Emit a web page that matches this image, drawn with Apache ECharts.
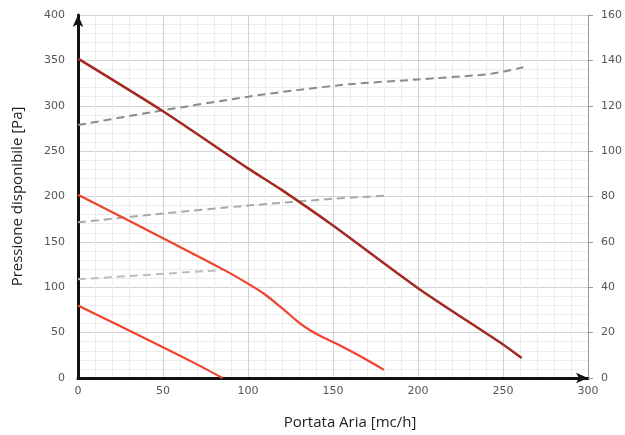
<!DOCTYPE html>
<html>
<head>
<meta charset="utf-8">
<script src="https://cdn.jsdelivr.net/npm/echarts@6/dist/echarts.min.js"></script>
<style>
html,body{margin:0;padding:0;background:#fff;}
#c{width:625px;height:435px;}
</style>
</head>
<body>
<div id="c"></div>
<script>
// Pressure curves (left axis, Pa) : [flow mc/h, pressure Pa]
var curveHigh = [[0,352],[50,294],[100,231],[120,207],[150,168],[200,99],[250,37],[261,22]];
var curveMid = [[0,202],[50,154],[85,120],[100,104],[110,92],[120,77],[130,61],[137,52],[145,44],[155,35],[165,25],[180,9]];
var curveLow = [[0,80],[25,57],[50,34],[70,15],[85,0]];
// Right-axis curves : [flow, value]
var dashHigh = [[0,111.5],[50,118],[100,124],[130,127],[160,129.5],[200,131.6],[240,133.8],[250,135],[262,137]];
var dashMid = [[0,68.6],[50,72.5],[100,76],[150,79],[180,80.3]];
var dashLow = [[0,43.5],[85,47.6]];

var xTicks = {min:0, max:300, interval:50};
var yLeftTicks = {min:0, max:400, interval:50};
var yRightTicks = {min:0, max:160, interval:20};

var chart = echarts.init(document.getElementById('c'), null, {renderer:'canvas'});
var labelStyle = {color:'#555', fontSize:11, fontFamily:'DejaVu Sans'};
function lineSeries(data, axis, color, width, dashed, smooth){
  return {type:'line', data:data, yAxisIndex:axis, smooth:smooth, symbol:'none',
    lineStyle:{color:color, width:width, type: dashed ? [8,5] : 'solid'}, z: dashed ? 4 : 5};
}
chart.setOption({
  animation:false,
  backgroundColor:'#fff',
  grid:{left:78, right:33, top:15, bottom:54, containLabel:false},
  xAxis:{
    type:'value', min:xTicks.min, max:xTicks.max, interval:xTicks.interval,
    name:'Portata Aria [mc/h]', nameLocation:'middle', nameGap:37,
    nameTextStyle:{color:'#222', fontSize:15, fontFamily:'Open Sans', padding:[0,0,0,34]},
    axisLine:{show:true, symbol:['none','arrow'], symbolSize:[8,12], lineStyle:{color:'#111', width:3}},
    axisTick:{show:false},
    axisLabel:{...labelStyle, margin:8},
    splitLine:{show:true, lineStyle:{color:'#d3d3d3', width:1}},
    minorTick:{show:false, splitNumber:5},
    minorSplitLine:{show:true, lineStyle:{color:'#ececec', width:1}}
  },
  yAxis:[{
    type:'value', min:yLeftTicks.min, max:yLeftTicks.max, interval:yLeftTicks.interval,
    name:'Pressione disponibile [Pa]', nameLocation:'middle', nameGap:53,
    nameTextStyle:{color:'#222', fontSize:15, fontFamily:'Open Sans'},
    axisLine:{show:true, symbol:['none','arrow'], symbolSize:[8,12], lineStyle:{color:'#111', width:3}},
    axisTick:{show:false},
    axisLabel:{...labelStyle, margin:13},
    splitLine:{show:true, lineStyle:{color:'#d3d3d3', width:1}},
    minorTick:{show:false, splitNumber:5},
    minorSplitLine:{show:true, lineStyle:{color:'#ececec', width:1}}
  },{
    type:'value', position:'right', min:yRightTicks.min, max:yRightTicks.max, interval:yRightTicks.interval,
    axisLine:{show:true, lineStyle:{color:'#999', width:1}},
    axisTick:{show:true, length:5, lineStyle:{color:'#999'}},
    axisLabel:{...labelStyle, margin:13},
    splitLine:{show:false}
  }],
  series:[
    lineSeries(curveHigh, 0, '#a3281f', 2.5, false, 0.25),
    lineSeries(curveMid, 0, '#f2412d', 2.2, false, 0.4),
    lineSeries(curveLow, 0, '#f2412d', 2.2, false, 0.25),
    lineSeries(dashHigh, 1, '#8a8a8a', 2, true, 0.25),
    lineSeries(dashMid, 1, '#a8a8a8', 2, true, 0.25),
    lineSeries(dashLow, 1, '#bdbdbd', 2, true, 0.25)
  ]
});
</script>
</body>
</html>
